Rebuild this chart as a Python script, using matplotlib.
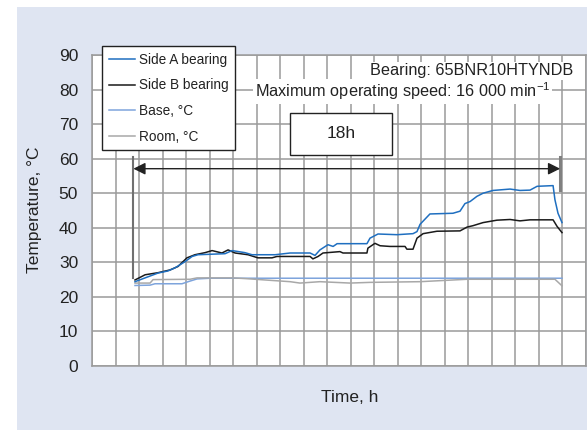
import matplotlib
matplotlib.use("Agg")
import matplotlib.pyplot as plt
from matplotlib.patches import Rectangle

plt.rcParams['font.family'] = ['Liberation Sans', 'DejaVu Sans']
plt.rcParams['mathtext.default'] = 'regular'

# ---- data (hours, °C) ----
side_a_t = [1.83, 2.26, 2.81, 3.23, 3.53, 3.96, 4.26, 4.51, 5.66, 5.96, 6.51, 6.81, 7.79, 8.43,
            9.28, 9.49, 9.70, 10.04, 10.26, 10.43, 11.70, 11.83, 12.17, 12.98, 13.66, 13.83,
            13.96, 14.17, 14.38, 15.36, 15.66, 15.87, 16.09, 16.38, 16.64, 17.06, 17.79, 18.21,
            18.64, 18.94, 19.62, 19.70, 19.83, 20.00]
side_a_v = [24.4, 25.5, 26.9, 27.5, 28.4, 30.2, 31.7, 32.2, 32.5, 33.4, 32.8, 32.2, 32.2, 32.7,
            32.7, 32.0, 33.6, 35.1, 34.6, 35.4, 35.4, 37.0, 38.2, 38.0, 38.3, 38.9,
            41.0, 42.5, 44.0, 44.2, 44.8, 47.0, 47.6, 49.1, 50.0, 50.8, 51.2, 50.8,
            50.9, 52.0, 52.2, 48.1, 44.2, 41.5]

side_b_t = [1.83, 2.26, 2.81, 3.32, 3.66, 4.04, 4.38, 4.81, 5.11, 5.53, 5.79, 6.09, 6.64, 7.06,
            7.66, 7.87, 9.28, 9.40, 9.62, 9.83, 10.55, 10.68, 11.70, 11.74, 12.04, 12.26, 12.68,
            13.32, 13.40, 13.66, 13.83, 14.09, 14.68, 15.66, 15.96, 16.21, 16.64, 17.23, 17.79,
            18.21, 18.64, 19.62, 19.79, 20.00]
side_b_v = [24.9, 26.4, 27.0, 27.8, 28.8, 31.3, 32.2, 32.8, 33.4, 32.7, 33.6, 32.7, 32.2, 31.3,
            31.3, 31.7, 31.7, 31.0, 31.7, 32.7, 33.1, 32.7, 32.7, 34.1, 35.5, 34.8, 34.6,
            34.6, 33.8, 33.8, 37.0, 38.3, 39.0, 39.1, 40.2, 40.6, 41.5, 42.2, 42.4,
            42.0, 42.3, 42.3, 40.4, 38.6]

base_t = [1.83, 2.47, 2.68, 3.83, 4.09, 4.47, 5.02, 20.00]
base_v = [23.3, 23.4, 23.8, 23.8, 24.4, 25.2, 25.4, 25.4]

room_t = [1.83, 2.47, 2.60, 4.17, 4.47, 6.00, 6.51, 7.57, 8.43, 8.85, 9.70, 10.98, 11.83,
          13.96, 15.96, 19.70, 20.00]
room_v = [24.0, 24.0, 25.0, 25.1, 25.5, 25.5, 25.3, 24.8, 24.4, 24.0, 24.4, 24.0, 24.2,
          24.4, 25.1, 25.1, 23.2]

y_ticks = [0, 10, 20, 30, 40, 50, 60, 70, 80, 90]
x_grid = list(range(0, 22))

fig = plt.figure(figsize=(5.87, 4.30), dpi=100)
fig.patch.set_facecolor('white')
bg = Rectangle((17 / 587, 0), 1 - 17 / 587, 1 - 7 / 430,
               transform=fig.transFigure, facecolor='#dfe5f2',
               edgecolor='none', zorder=-10)
fig.patches.append(bg)

ax = fig.add_axes([92 / 587, 1 - 366 / 430, (585.5 - 92) / 587, (366 - 55) / 430])
ax.set_zorder(1)
ax.set_facecolor('white')
ax.set_xlim(0, 21)
ax.set_ylim(0, 90)
ax.set_xticks(x_grid)
ax.set_xticklabels([])
ax.set_yticks(y_ticks)
ax.tick_params(axis='both', length=0, pad=10, labelsize=12.5, labelcolor='#222222')
ax.tick_params(axis='x', pad=0)
ax.grid(True, color='#9a9a9a', linewidth=1.1)
ax.set_axisbelow(True)
for s in ax.spines.values():
    s.set_color('#9a9a9a')
    s.set_linewidth(1.1)

ln_a, = ax.plot(side_a_t, side_a_v, color='#1f6fc0', lw=1.1, label='Side A bearing', zorder=4)
ln_b, = ax.plot(side_b_t, side_b_v, color='#1a1a1a', lw=1.1, label='Side B bearing', zorder=3)
ln_base, = ax.plot(base_t, base_v, color='#7ea4dc', lw=1.1, label='Base, °C', zorder=2)
ln_room, = ax.plot(room_t, room_v, color='#a8a8a8', lw=1.1, label='Room, °C', zorder=2)

# 18h span marker
ax.plot([1.76, 1.76], [25.5, 60.6], color='#707070', lw=1.5, zorder=5)
ax.plot([19.92, 19.92], [51.0, 60.6], color='#808080', lw=2.2, zorder=5)
ax.annotate('', xy=(19.92, 57.1), xytext=(1.76, 57.1),
            arrowprops=dict(arrowstyle='<|-|>', color='#222222', lw=1.0,
                            mutation_scale=18, shrinkA=0, shrinkB=0), zorder=5)
ax.add_patch(Rectangle((8.43, 61.2), 12.77 - 8.43, 73.3 - 61.2, facecolor='white',
                       edgecolor='#222222', lw=1.0, zorder=5))
ax.text(10.6, 67.2, '18h', ha='center', va='center', fontsize=12.5, color='#222222', zorder=6)

ax.text(20.47, 85.5, 'Bearing: 65BNR10HTYNDB', ha='right', va='center', fontsize=11.7,
        color='#222222', zorder=6,
        bbox=dict(facecolor='white', edgecolor='none', pad=1.0))
ax.text(19.5, 79.4, r'Maximum operating speed: 16 000 min$^{-1}$', ha='right', va='center',
        fontsize=11.7, color='#222222', zorder=6,
        bbox=dict(facecolor='white', edgecolor='none', pad=1.0))

leg = ax.legend(handles=[ln_a, ln_b, ln_base, ln_room], loc='upper left',
                bbox_to_anchor=(102 / 587, 1 - 46 / 430), bbox_transform=fig.transFigure,
                borderaxespad=0,
                frameon=True, fancybox=False, edgecolor='#222222', facecolor='white',
                framealpha=1, handlelength=1.9, handletextpad=0.3, labelspacing=0.85,
                borderpad=0.5,
                prop={'family': ['Liberation Sans Narrow', 'DejaVu Sans Condensed',
                                 'Liberation Sans'], 'size': 9.8})
leg.get_frame().set_linewidth(1.0)
for t in leg.get_texts():
    t.set_color('#222222')
leg.set_zorder(10)

fig.text(35 / 587, 1 - 210 / 430, 'Temperature, °C', rotation=90, ha='center', va='center',
         fontsize=12.5, color='#222222')
fig.text(349.5 / 587, 1 - 398 / 430, 'Time, h', ha='center', va='center',
         fontsize=12.5, color='#222222')

fig.savefig('out.png', dpi=100)
